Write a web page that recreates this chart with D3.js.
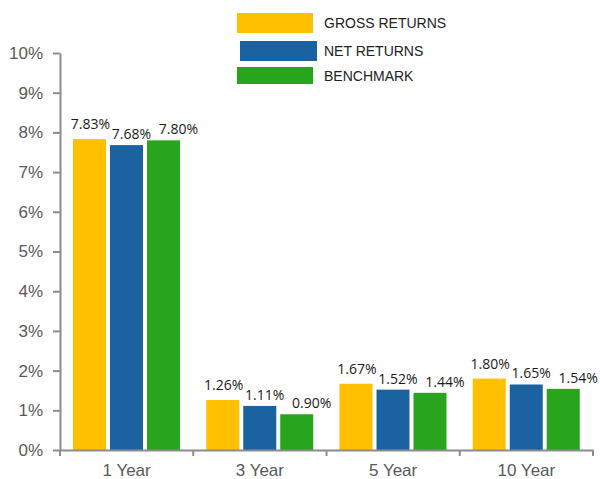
<!DOCTYPE html>
<html>
<head>
<meta charset="utf-8">
<script src="https://cdn.jsdelivr.net/npm/d3@7"></script>
<style>
  body { margin: 0; background: #fff; }
  svg { display: block; }
</style>
</head>
<body>
<div id="chart"></div>
<script>
// chart data
var periods = ["1 Year", "3 Year", "5 Year", "10 Year"];
var seriesNames = ["GROSS RETURNS", "NET RETURNS", "BENCHMARK"];
var grossReturns = [7.83, 1.26, 1.67, 1.80];
var netReturns = [7.68, 1.11, 1.52, 1.65];
var benchmark = [7.80, 0.90, 1.44, 1.54];
var yTicks = [0, 1, 2, 3, 4, 5, 6, 7, 8, 9, 10];

var colors = ["#ffc000", "#1b62a0", "#29a51d"];
// label nudges per series (the original labels sit a bit off-centre)
var labelDx = [1, 5, 15];
var labelGap = [10, 6, 6];

var width = 600, height = 479;
var axisColor = "#8c8c8c";

var svg = d3.select("#chart").append("svg")
    .attr("width", width)
    .attr("height", height);

var values = [grossReturns, netReturns, benchmark];

// scales
var y = d3.scaleLinear().domain([0, 10]).range([450, 53]);
var x0 = d3.scaleBand().domain(periods).range([60, 593]);
var x1 = d3.scaleBand().domain(seriesNames).range([13, 120]).paddingInner(0.108);

// bars
var groups = svg.selectAll("g.period")
    .data(periods)
    .enter().append("g")
    .attr("class", "period")
    .attr("transform", function (d) { return "translate(" + x0(d) + ",0)"; });

groups.selectAll("rect")
    .data(function (d, i) {
        return seriesNames.map(function (s, j) { return { s: s, j: j, v: values[j][i] }; });
    })
    .enter().append("rect")
    .attr("x", function (d) { return x1(d.s); })
    .attr("y", function (d) { return y(d.v); })
    .attr("width", x1.bandwidth())
    .attr("height", function (d) { return y(0) - y(d.v); })
    .style("fill", function (d) { return colors[d.j]; });

// value labels
groups.selectAll("text.val")
    .data(function (d, i) {
        return seriesNames.map(function (s, j) { return { s: s, j: j, v: values[j][i] }; });
    })
    .enter().append("text")
    .attr("class", "val")
    .attr("x", function (d) { return x1(d.s) + x1.bandwidth() / 2 + labelDx[d.j]; })
    .attr("y", function (d) { return y(d.v) - labelGap[d.j]; })
    .attr("text-anchor", "middle")
    .style("font-family", "'Open Sans', sans-serif")
    .style("font-size", "14px")
    .style("fill", "#1a1a1a")
    .text(function (d) { return d.v.toFixed(2) + "%"; });

// y axis
var yAxis = svg.append("g")
    .attr("transform", "translate(60,0)")
    .call(d3.axisLeft(y).tickValues(yTicks).tickSize(7).tickSizeOuter(0).tickPadding(10)
        .tickFormat(function (d) { return d + "%"; }));

// x axis: labels at band centres, ticks on band edges
var xAxis = svg.append("g")
    .attr("transform", "translate(0,450)")
    .call(d3.axisBottom(x0).tickSize(0).tickPadding(14));

xAxis.selectAll(".edge")
    .data(periods.map(function (p) { return x0(p); }).concat([x0.range()[1]]))
    .enter().append("line")
    .attr("class", "edge")
    .attr("x1", function (d) { return d; })
    .attr("x2", function (d) { return d; })
    .attr("y1", 0)
    .attr("y2", 6);

[yAxis, xAxis].forEach(function (ax) {
    ax.select(".domain").style("stroke", axisColor).style("stroke-width", 2);
    ax.selectAll("line").style("stroke", axisColor).style("stroke-width", 2);
    ax.selectAll("text")
        .style("font-family", "'Liberation Sans', Arial, sans-serif")
        .style("font-size", "17px")
        .style("fill", "#595959");
});

// legend
var legend = svg.append("g").attr("class", "legend");
var legendRows = [
    { x: 237, y: 13, h: 20, w: 76 },
    { x: 240, y: 41, h: 20, w: 77 },
    { x: 237, y: 67, h: 17, w: 76 }
];
seriesNames.forEach(function (name, i) {
    var r = legendRows[i];
    legend.append("rect")
        .attr("x", r.x).attr("y", r.y)
        .attr("width", r.w).attr("height", r.h)
        .style("fill", colors[i]);
    legend.append("text")
        .attr("x", 324)
        .attr("y", r.y + r.h / 2 + 5)
        .style("font-family", "'Liberation Sans', Arial, sans-serif")
        .style("font-size", "14px")
        .style("fill", "#222")
        .text(name);
});
</script>
</body>
</html>
